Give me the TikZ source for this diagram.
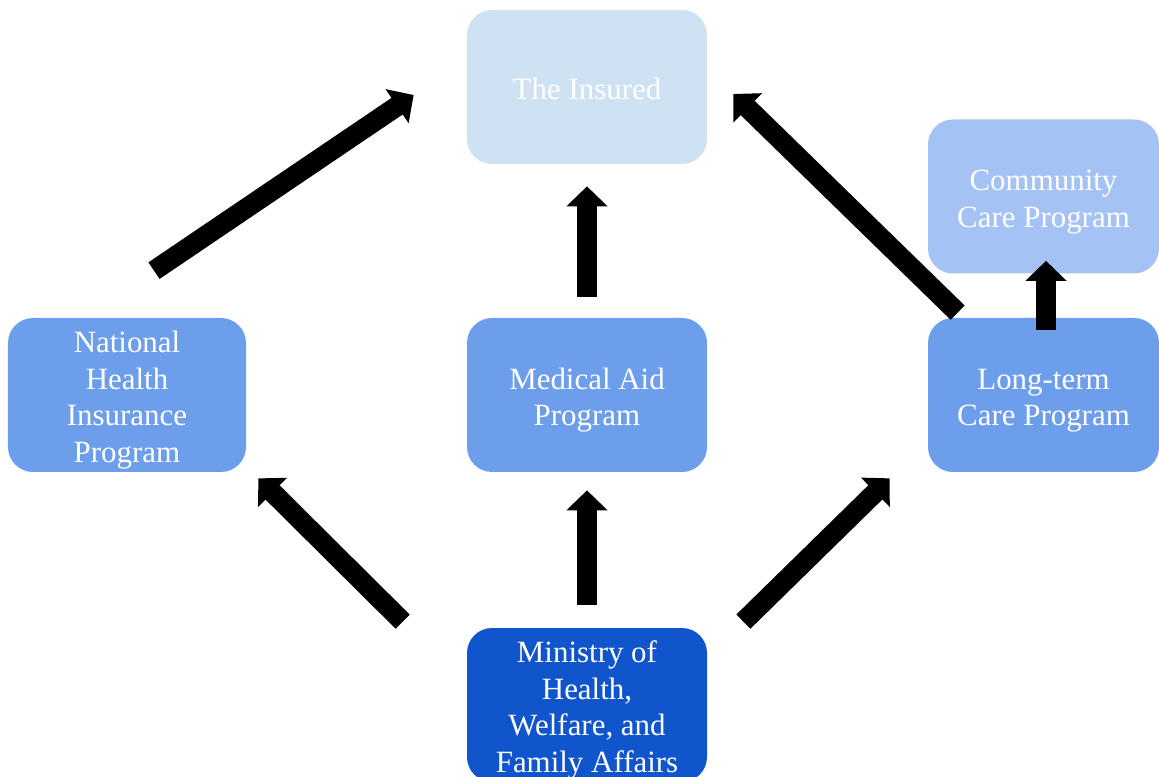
\documentclass[tikz,border=0pt]{standalone}
\usepackage{fontspec}
\setmainfont{Liberation Serif}
\usepackage{tikz}
\usetikzlibrary{arrows.meta}

\definecolor{insblue}{HTML}{CFE2F3}
\definecolor{comblue}{HTML}{A4C2F4}
\definecolor{progblue}{HTML}{6D9EEB}
\definecolor{minblue}{HTML}{1155CC}

\begin{document}
\begin{tikzpicture}

			\def \bw {4.8cm} % box width
			\def \bh {3.08cm} % box height

			\tikzset{
				box/.style={rounded corners=0.5cm, minimum width=\bw, minimum height=\bh, inner ysep=0pt,
					text=white, align=center, font=\fontsize{17.6}{21}\selectfont,
					text depth=3.9pt, lines=1},
				lines/.style={text height={18.1pt+(#1-1)*21pt}},
				bigarrow/.style={line width=0.4cm, -{Triangle[width=0.8cm, length=0.4cm]}}
			}

			\useasboundingbox (0,0) rectangle (23.18,-15.54);

			\node[box, fill=insblue] (ins) at (11.74,-1.74) {The Insured};
			\node[box, lines=2, fill=comblue, minimum width=4.62cm] (com) at (20.87,-3.93) {Community\\Care Program};
			\node[box, lines=4, fill=progblue, minimum width=4.76cm] (nhi) at (2.54,-7.9) {National\\Health\\Insurance\\Program};
			\node[box, lines=2, fill=progblue] (med) at (11.74,-7.9) {Medical Aid\\Program};
			\node[box, lines=2, fill=progblue, minimum width=4.62cm] (ltc) at (20.87,-7.9) {Long-term\\Care Program};
			\node[box, lines=4, fill=minblue] (min) at (11.74,-14.1) {Ministry of\\Health,\\Welfare, and\\Family Affairs};

			% up to the insured
			\draw[bigarrow] ([shift={(0.54,0.94)}]nhi.north) -- ([shift={(-1.06,-0.16)}]ins.west);
			\draw[bigarrow] ([yshift=0.42cm]med.north) -- ([yshift=-0.44cm]ins.south);
			\draw[bigarrow] ([shift={(0.6,0.1)}]ltc.north west) -- ([shift={(0.52,-0.14)}]ins.east);
			\draw[bigarrow] ([shift={(0.05,-0.24)}]ltc.north) -- ([shift={(0.05,0.26)}]com.south);

			% out of the ministry
			\draw[bigarrow] ([shift={(-1.28,0.12)}]min.north west) -- ([shift={(0.24,-0.12)}]nhi.south east);
			\draw[bigarrow] ([yshift=0.46cm]min.north) -- ([yshift=-0.36cm]med.south);
			\draw[bigarrow] ([shift={(0.72,0.12)}]min.north east) -- ([shift={(-0.76,-0.12)}]ltc.south west);

\end{tikzpicture}
\end{document}
